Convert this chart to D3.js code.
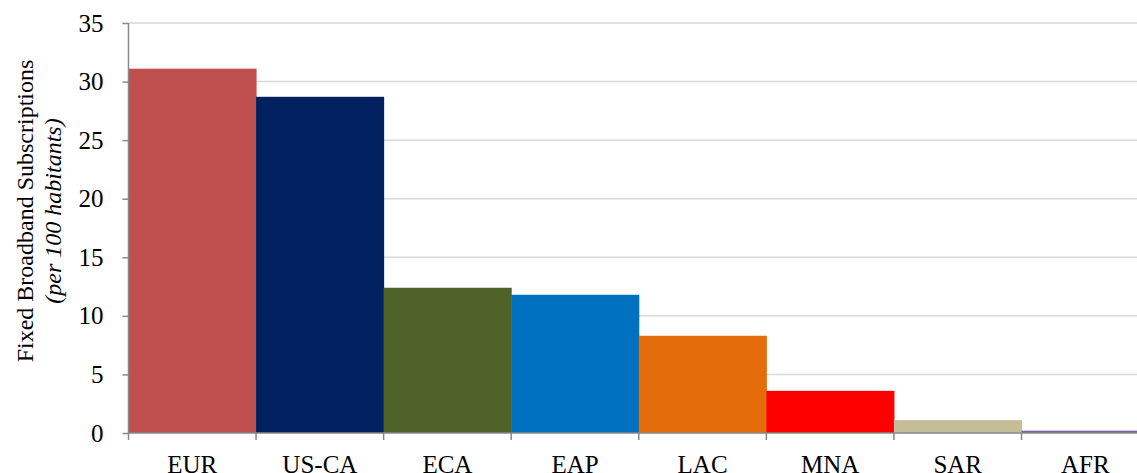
<!DOCTYPE html>
<html>
<head>
<meta charset="utf-8">
<script src="https://cdn.jsdelivr.net/npm/d3@7"></script>
<style>
  body { margin: 0; background: #fff; }
  svg { display: block; }
</style>
</head>
<body>
<div id="chart"></div>
<script>
var regions = ["EUR", "US-CA", "ECA", "EAP", "LAC", "MNA", "SAR", "AFR"];
var subscriptions = [31.1, 28.7, 12.4, 11.8, 8.3, 3.6, 1.1, 0.2];
var barColors = ["#c0504d", "#002060", "#4f6228", "#0070c0", "#e46c0a", "#ff0000", "#c4bd97", "#8064a2"];
var yTicks = [0, 5, 10, 15, 20, 25, 30, 35];

var width = 1137,
    height = 473;
var plotLeft = 128.5, plotTop = 23, plotBottom = 433;
var bandW = (1021 - 128) / 7;

var svg = d3.select("#chart").append("svg")
    .attr("width", width)
    .attr("height", height);

var x = d3.scaleBand()
    .domain(regions)
    .range([plotLeft, plotLeft + bandW * regions.length])
    .padding(0);

var y = d3.scaleLinear()
    .domain([0, 35])
    .range([plotBottom, plotTop]);

// gridlines
svg.append("g")
    .selectAll("line")
    .data(yTicks.filter(function(d) { return d > 0; }))
    .enter()
    .append("line")
    .attr("x1", plotLeft)
    .attr("x2", width)
    .attr("y1", function(d) { return y(d); })
    .attr("y2", function(d) { return y(d); })
    .attr("stroke", "#d9d9d9")
    .attr("stroke-width", 1.5);

var data = regions.map(function(r, i) {
    return { region: r, value: subscriptions[i], color: barColors[i] };
});

svg.append("g")
    .selectAll("rect")
    .data(data)
    .enter()
    .append("rect")
    .attr("x", function(d) { return x(d.region); })
    .attr("width", x.bandwidth() + 0.5)
    .attr("y", function(d) { return y(d.value); })
    .attr("height", function(d) { return y(0) - y(d.value); })
    .attr("fill", function(d) { return d.color; });

// y axis
var yAxis = svg.append("g")
    .attr("transform", "translate(" + plotLeft + ",0)")
    .call(d3.axisLeft(y).tickValues(yTicks).tickSize(6).tickPadding(19));

// x axis
var xAxis = svg.append("g")
    .attr("transform", "translate(0," + plotBottom + ")")
    .call(d3.axisBottom(x).tickSize(0).tickPadding(22));

svg.selectAll(".tick text")
    .attr("font-family", "'Liberation Serif', 'Times New Roman', serif")
    .style("font-size", "25px")
    .attr("fill", "#000");
svg.selectAll(".domain, .tick line")
    .attr("stroke", "#898989")
    .attr("stroke-width", 1.5);
yAxis.select(".domain").attr("d", "M0," + plotTop + "V" + plotBottom);
xAxis.select(".domain").attr("d", "M" + plotLeft + ",0H" + width);

// x boundary ticks between bands
xAxis.append("g")
    .selectAll("line")
    .data(regions)
    .enter()
    .append("line")
    .attr("x1", function(d) { return x(d); })
    .attr("x2", function(d) { return x(d); })
    .attr("y1", 0)
    .attr("y2", 7)
    .attr("stroke", "#898989")
    .attr("stroke-width", 1.5);

// y title
var title = svg.append("text")
    .attr("transform", "translate(33,211) rotate(-90)")
    .attr("text-anchor", "middle")
    .attr("font-family", "'Liberation Serif', 'Times New Roman', serif")
    .style("font-size", "24px")
    .attr("fill", "#000");
title.append("tspan")
    .attr("x", 0)
    .attr("y", 0)
    .text("Fixed Broadband Subscriptions");
title.append("tspan")
    .attr("x", 0)
    .attr("y", 28)
    .style("font-style", "italic")
    .text("(per 100 habitants)");
</script>
</body>
</html>
